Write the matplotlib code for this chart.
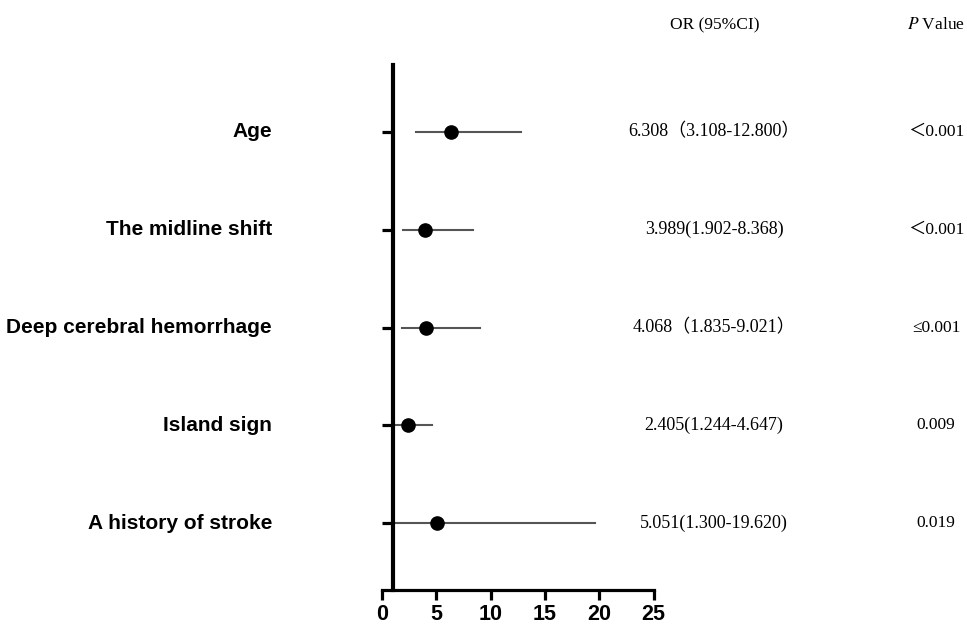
import matplotlib.pyplot as plt
from matplotlib.transforms import blended_transform_factory

labels = ["Age", "The midline shift", "Deep cerebral hemorrhage",
          "Island sign", "A history of stroke"]
odds = [6.308, 3.989, 4.068, 2.405, 5.051]
lower = [3.108, 1.902, 1.835, 1.244, 1.300]
upper = [12.800, 8.368, 9.021, 4.647, 19.620]
or_text = ["6.308\uff083.108-12.800\uff09", "3.989(1.902-8.368)",
           "4.068\uff081.835-9.021\uff09", "2.405(1.244-4.647)",
           "5.051(1.300-19.620)"]
p_text = ["\uff1c0.001", "\uff1c0.001", "\u22640.001", "0.009", "0.019"]
xticks = [0, 5, 10, 15, 20, 25]

plt.rcParams["mathtext.fontset"] = "stix"
serif = ["Liberation Serif", "Noto Sans CJK SC", "DejaVu Serif"]

fig = plt.figure(figsize=(9.67, 6.26), dpi=100)
ax = fig.add_axes([0.395, 0.0575, 0.281, 0.8385])

ypos = list(range(len(labels)))
for y, lo, hi in zip(ypos, lower, upper):
    ax.plot([lo, hi], [y, y], color="#555555", lw=1.5, zorder=2)
ax.plot(odds, ypos, "o", color="black", ms=9.5, zorder=3)

ax.set_xlim(0, 25)
ax.set_ylim(len(labels) - 1 + 0.68, -0.68)
ax.set_xticks(xticks)
ax.set_yticks(ypos)
ax.set_yticklabels([])

for s in ["top", "right"]:
    ax.spines[s].set_visible(False)
ax.spines["left"].set_position(("data", 1))
ax.spines["left"].set_linewidth(3)
ax.spines["bottom"].set_linewidth(2.3)
ax.tick_params(axis="y", direction="out", length=8, width=2.3)
ax.tick_params(axis="x", direction="out", length=7, width=2.3, pad=3)
for t in ax.get_xticklabels():
    t.set_fontfamily("Liberation Sans")
    t.set_fontweight("bold")
    t.set_fontsize(15.5)

tr = blended_transform_factory(fig.transFigure, ax.transData)
for y, lab, ot, pt in zip(ypos, labels, or_text, p_text):
    fig.text(272 / 967, y, lab, transform=tr, ha="right", va="center",
             fontsize=15, fontweight="bold", family="Liberation Sans")
    fig.text(714 / 967, y, ot, transform=tr, ha="center", va="center",
             fontsize=13, family=serif)
    fig.text(936 / 967, y, pt, transform=tr, ha="center", va="center",
             fontsize=12.5, family=serif)

fig.text(715 / 967, 1 - 25 / 626, "OR (95%CI)", ha="center", va="center",
         fontsize=12.5, family=serif)
fig.text(936 / 967, 1 - 25 / 626, "$\\mathit{P}$ Value", ha="center", va="center",
         fontsize=12.5, family=serif)

fig.savefig("out.png", dpi=100)
